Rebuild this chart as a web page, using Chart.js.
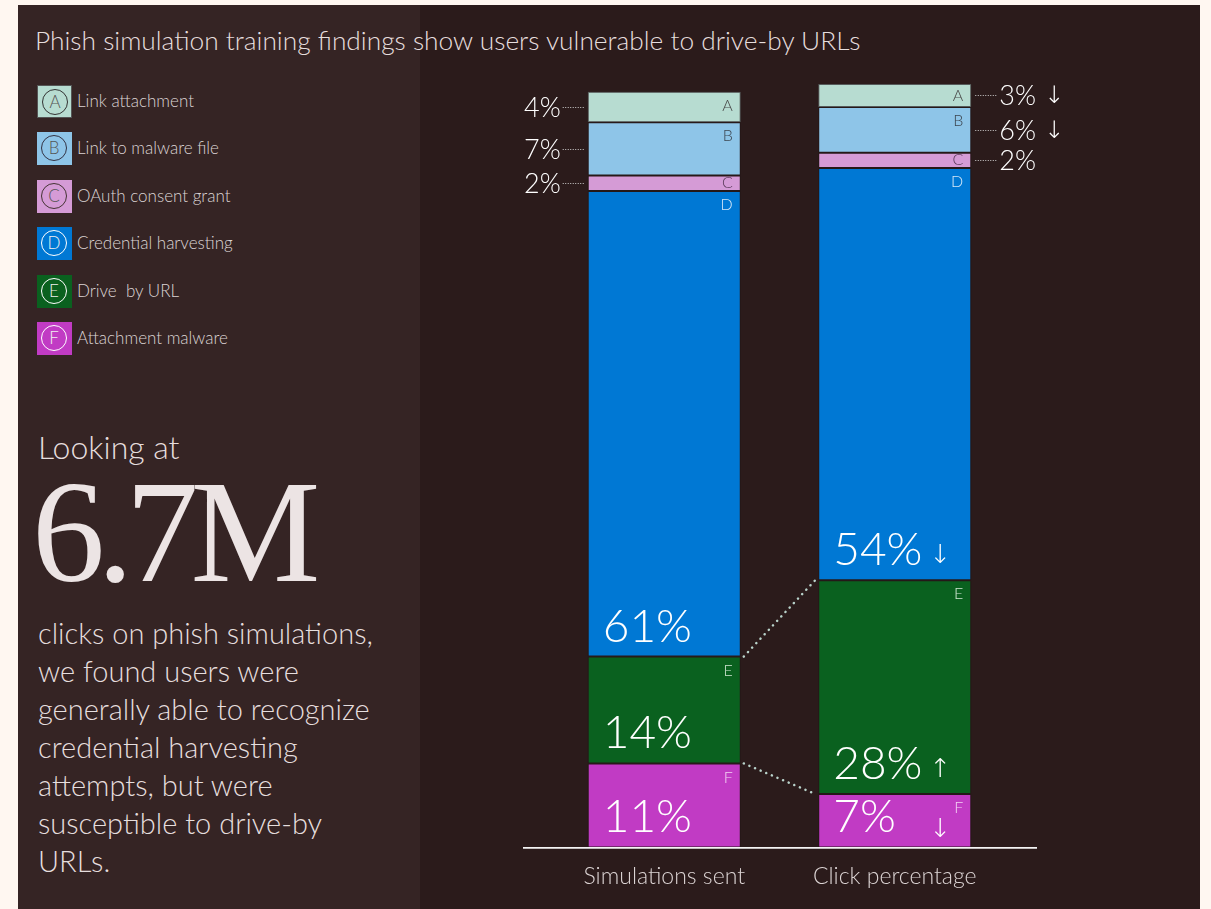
<!DOCTYPE html>
<html>
<head>
<meta charset="utf-8">
<script src="https://cdn.jsdelivr.net/npm/chart.js@4"></script>
<style>
  html, body { margin: 0; padding: 0; }
  body { width: 1211px; height: 909px; background: #fff7f1; position: relative; overflow: hidden; font-family: 'Lato', 'Open Sans', sans-serif; }
  #panel { position: absolute; left: 18px; top: 5px; width: 1182px; height: 904px; background: #2b1b1b; }
  #side { position: absolute; left: 18px; top: 5px; width: 402px; height: 904px; background: #352424; }
  #title { position: absolute; left: 35px; top: 24px; font-size: 26.3px; font-weight: 300; color: #e6dede; white-space: nowrap; }
  #legend { position: absolute; left: 37px; top: 85px; }
  .item { position: absolute; left: 0; height: 33px; white-space: nowrap; }
  .swatch { position: absolute; left: 0; top: 0; width: 35px; height: 33px; box-sizing: border-box; }
  .ring { position: absolute; left: 4px; top: 3px; width: 26px; height: 26px; border-radius: 50%; box-sizing: border-box; border: 1.3px solid; text-align: center; line-height: 24px; font-size: 17px; font-weight: 300; }
  .name { position: absolute; left: 40px; top: 5px; font-size: 17px; font-weight: 300; color: #dcd4d4; white-space: pre; }
  #looking { position: absolute; left: 38px; top: 427px; font-size: 32px; font-weight: 300; color: #e6dede; }
  #big { position: absolute; left: 32px; top: 452px; font-family: 'Liberation Serif', serif; font-size: 146px; color: #ece4e4; letter-spacing: -8px; line-height: 160px; }
  #para { position: absolute; left: 38px; top: 614px; font-size: 29px; font-weight: 300; line-height: 38px; color: #e6dede; }
  #chartBox { position: absolute; left: 420px; top: 5px; width: 780px; height: 904px; }
</style>
</head>
<body>
<div id="panel"></div>
<div id="side"></div>
<div id="title">Phish simulation training findings show users vulnerable to drive-by URLs</div>
<div id="legend"></div>
<div id="looking">Looking at</div>
<div id="big">6.7M</div>
<div id="para">clicks on phish simulations,<br>we found users were<br>generally able to recognize<br>credential harvesting<br>attempts, but were<br>susceptible to drive-by<br>URLs.</div>
<div id="chartBox"><canvas id="chart"></canvas></div>

<script>
// Données
const categories = ['Simulations sent', 'Click percentage'];
const letters = ['A', 'B', 'C', 'D', 'E', 'F'];
const typeNames = ['Link attachment', 'Link to malware file', 'OAuth consent grant', 'Credential harvesting', 'Drive  by URL', 'Attachment malware'];
const sentShare = [4, 7, 2, 61, 14, 11];
const clickShare = [3, 6, 2, 54, 28, 7];
const clickTrend = ['↓', '↓', '', '↓', '↑', '↓'];

const colors = ['#b7dcd1', '#8ec5e8', '#d59bd6', '#0078d4', '#0a611f', '#c13bc4'];
const letterColors = ['#4a4a4a', '#3c4650', '#5a3a5a', '#d6e8f8', '#cfe6d2', '#f3d2f3'];
const ringColors = ['#333', '#334', '#433', '#fff', '#fff', '#fff'];

// Légende HTML
const legend = document.getElementById('legend');
letters.forEach((l, i) => {
    const item = document.createElement('div');
    item.className = 'item';
    item.style.top = (i * 47.4) + 'px';
    item.innerHTML =
        `<div class="swatch" style="background:${colors[i]};${i === 0 ? 'border:1px solid #555;' : ''}">` +
        `<div class="ring" style="border-color:${ringColors[i]};color:${ringColors[i] === '#fff' ? '#f0f0f0' : '#555'}">${l}</div></div>` +
        `<div class="name">${typeNames[i]}</div>`;
    legend.appendChild(item);
});

// Segments empilés : F en bas, A en haut
const datasets = [];
for (let t = letters.length - 1; t >= 0; t--) {
    datasets.push({
        label: typeNames[t],
        typeIndex: t,
        data: [sentShare[t], clickShare[t]],
        backgroundColor: colors[t],
        borderColor: t === 0 ? '#555b5b' : '#241818',
        borderWidth: 1,
        borderSkipped: false,
        barPercentage: 0.664,
        categoryPercentage: 1
    });
}

function dotted(ctx, x1, y1, x2, y2, color, width, dash, cap) {
    ctx.save();
    ctx.strokeStyle = color;
    ctx.lineWidth = width;
    ctx.setLineDash(dash);
    ctx.lineCap = cap || 'round';
    ctx.beginPath();
    ctx.moveTo(x1, y1);
    ctx.lineTo(x2, y2);
    ctx.stroke();
    ctx.restore();
}

const overlay = {
    id: 'overlay',
    afterDatasetsDraw(chart) {
        const ctx = chart.ctx;
        const area = chart.chartArea;
        const boxes = {};

        chart.data.datasets.forEach((ds, di) => {
            const t = ds.typeIndex;
            const meta = chart.getDatasetMeta(di);
            boxes[t] = meta.data.map(el => ({
                left: el.x - el.width / 2,
                right: el.x + el.width / 2,
                top: Math.min(el.y, el.base),
                bottom: Math.max(el.y, el.base)
            }));
        });

        ctx.save();
        letters.forEach((l, t) => {
            boxes[t].forEach((b, j) => {
                const value = j === 0 ? sentShare[t] : clickShare[t];
                const arrow = j === 1 ? clickTrend[t] : '';

                // lettre du segment
                ctx.font = '300 16px Lato';
                ctx.fillStyle = letterColors[t];
                ctx.textAlign = 'right';
                ctx.textBaseline = 'middle';
                ctx.fillText(l, b.right - 8, Math.min(b.top + 14, (b.top + b.bottom) / 2));

                if (t >= 3) {
                    // grandes étiquettes dans les segments
                    ctx.font = '300 46px Lato';
                    ctx.fillStyle = '#ffffff';
                    ctx.textAlign = 'left';
                    ctx.textBaseline = 'alphabetic';
                    ctx.fillText(value + '%', b.left + 15, b.bottom - 15);
                    if (arrow) {
                        ctx.font = '300 26px "DejaVu Sans"';
                        ctx.textAlign = 'center';
                        ctx.fillText(arrow, b.right - 31, b.bottom - (t === 5 ? 10 : 17));
                    }
                } else {
                    // étiquettes externes avec pointillés
                    const y = Math.round((b.top + b.bottom) / 2) + 0.5;
                    ctx.font = '300 27px Lato';
                    ctx.fillStyle = '#ffffff';
                    ctx.textBaseline = 'middle';
                    if (j === 0) {
                        dotted(ctx, b.left - 25, y, b.left - 3, y, '#d0d0d0', 1, [1, 1.5], 'butt');
                        ctx.textAlign = 'right';
                        ctx.fillText(value + '%', b.left - 27, y + 1);
                    } else {
                        dotted(ctx, b.right + 4, y, b.right + 25, y, '#d0d0d0', 1, [1, 1.5], 'butt');
                        ctx.textAlign = 'left';
                        const txt = value + '%';
                        ctx.fillText(txt, b.right + 28, y + 1);
                        if (arrow) {
                            const w = ctx.measureText(txt).width;
                            ctx.font = '300 24px "DejaVu Sans"';
                            ctx.fillText(arrow, b.right + 28 + w + 8, y + 1);
                        }
                    }
                }
            });
        });

        // pointillés entre les deux colonnes (E et F)
        [4, 5].forEach(t => {
            const a = boxes[t][0], b = boxes[t][1];
            dotted(ctx, a.right + 3, a.top, b.left - 3, b.top, '#b9d3cb', 2.5, [0.1, 6]);
        });

        // ligne de base
        ctx.strokeStyle = '#f4f4f4';
        ctx.lineWidth = 1.6;
        ctx.beginPath();
        ctx.moveTo(area.left - 26, area.bottom + 0.5);
        ctx.lineTo(area.right + 27, area.bottom + 0.5);
        ctx.stroke();
        ctx.restore();
    }
};

new Chart(document.getElementById('chart'), {
    type: 'bar',
    data: { labels: categories, datasets: datasets },
    options: {
        responsive: true,
        maintainAspectRatio: false,
        animation: false,
        layout: { padding: { left: 129, right: 190, top: 79, bottom: 4 } },
        plugins: {
            legend: { display: false },
            tooltip: { enabled: false }
        },
        scales: {
            x: {
                stacked: true,
                grid: { display: false, drawTicks: false },
                border: { display: false },
                ticks: {
                    color: '#dcd4d4',
                    padding: 15,
                    font: { family: 'Lato', size: 23, weight: '300' }
                }
            },
            y: {
                stacked: true,
                display: false,
                min: 0,
                max: 100
            }
        }
    },
    plugins: [overlay]
});
</script>
</body>
</html>
